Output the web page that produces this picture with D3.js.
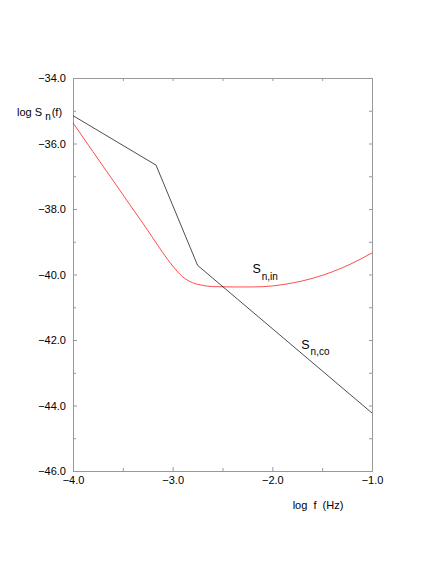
<!DOCTYPE html>
<html>
<head>
<meta charset="utf-8">
<script src="https://cdn.jsdelivr.net/npm/d3@7"></script>
<style>
  body { margin: 0; background: #fff; }
  svg { font-family: "Liberation Sans", Arial, sans-serif; }
  .axis path, .axis line { stroke: #999; }
</style>
</head>
<body>
<div id="chart"></div>
<script>
// chart size matches the window
const width = 436,
    height = 564,
    margin = ({ top: 78, right: 64, bottom: 93, left: 73 });

// data (log10 f in Hz, log10 S_n)
const coX = [-4.0, -3.167, -2.75, -1.0];
const coY = [-35.15, -36.66, -39.72, -44.23];

const inX = [-4.0, -3.8, -3.6, -3.4, -3.3, -3.2, -3.1, -3.0, -2.9, -2.8, -2.7, -2.6, -2.4, -2.2, -2.0, -1.8, -1.6, -1.4, -1.2, -1.0];
const inY = [-35.37, -36.25, -37.12, -38.0, -38.43, -38.88, -39.33, -39.74, -40.07, -40.25, -40.33, -40.37, -40.38, -40.38, -40.35, -40.26, -40.12, -39.92, -39.66, -39.34];

const xTicks = [-4.0, -3.0, -2.0, -1.0];
const xMinor = [-3.5, -2.5, -1.5];
const yTicks = [-46, -44, -42, -40, -38, -36, -34];
const yMinor = [-45, -43, -41, -39, -37, -35];

const svg = d3.select("#chart")
    .append("svg")
    .attr("width", width)
    .attr("height", height);

let x = d3.scaleLinear()
    .domain([-4, -1])
    .range([margin.left, width - margin.right]);

let y = d3.scaleLinear()
    .domain([-46, -34])
    .range([height - margin.bottom, margin.top]);

const fmt = d3.format(".1f");

// frame with inward ticks on all four sides
svg.append("g")
    .attr("class", "axis")
    .attr("transform", `translate(0,${height - margin.bottom})`)
    .call(d3.axisBottom(x).tickValues(xTicks).tickFormat(fmt).tickSize(-4).tickPadding(5));

svg.append("g")
    .attr("class", "axis")
    .attr("transform", `translate(0,${height - margin.bottom})`)
    .call(d3.axisBottom(x).tickValues(xMinor).tickFormat("").tickSize(-3).tickSizeOuter(0));

svg.append("g")
    .attr("class", "axis")
    .attr("transform", `translate(0,${margin.top})`)
    .call(d3.axisTop(x).tickValues(xTicks.concat(xMinor)).tickFormat("").tickSize(-3).tickSizeOuter(0));

svg.append("g")
    .attr("class", "axis")
    .attr("transform", `translate(${margin.left},0)`)
    .call(d3.axisLeft(y).tickValues(yTicks).tickFormat(fmt).tickSize(-4).tickPadding(7));

svg.append("g")
    .attr("class", "axis")
    .attr("transform", `translate(${margin.left},0)`)
    .call(d3.axisLeft(y).tickValues(yMinor).tickFormat("").tickSize(-3).tickSizeOuter(0));

svg.append("g")
    .attr("class", "axis")
    .attr("transform", `translate(${width - margin.right},0)`)
    .call(d3.axisRight(y).tickValues(yTicks.concat(yMinor)).tickFormat("").tickSize(-3).tickSizeOuter(0));

svg.selectAll(".axis text")
    .attr("font-size", 11)
    .attr("font-family", "Liberation Sans, Arial, sans-serif")
    .attr("fill", "#000");

// axis titles
svg.append("text")
    .attr("x", 318)
    .attr("y", 509)
    .attr("text-anchor", "middle")
    .attr("font-size", 11)
    .style("white-space", "pre")
    .text("log  f  (Hz)");

let yl = svg.append("text")
    .attr("x", 17)
    .attr("y", 115.5)
    .attr("font-size", 11);
yl.append("tspan").text("log S ");
yl.append("tspan").attr("dy", 4.5).attr("font-size", 10).text("n");
yl.append("tspan").attr("dy", -4.5).attr("dx", 1).text("(f)");

// curves
let line = d3.line()
    .x(d => x(d[0]))
    .y(d => y(d[1]));

let inCurve = d3.line()
    .x(d => x(d[0]))
    .y(d => y(d[1]))
    .curve(d3.curveMonotoneX);

svg.append("path")
    .datum(d3.zip(inX, inY))
    .attr("d", inCurve)
    .attr("fill", "none")
    .attr("stroke", "#ff0000")
    .attr("stroke-width", 0.7);

svg.append("path")
    .datum(d3.zip(coX, coY))
    .attr("d", line)
    .attr("fill", "none")
    .attr("stroke", "#000")
    .attr("stroke-width", 0.7);

// curve labels
function subLabel(px, py, sub) {
    let t = svg.append("text")
        .attr("x", px)
        .attr("y", py)
        .attr("font-size", 12.5);
    t.append("tspan").text("S");
    t.append("tspan").attr("dy", 6.5).attr("dx", 1).attr("font-size", 10).text(sub);
}
subLabel(x(-2.2), y(-39.96), "n,in");
subLabel(x(-1.71), y(-42.26), "n,co");
</script>
</body>
</html>
